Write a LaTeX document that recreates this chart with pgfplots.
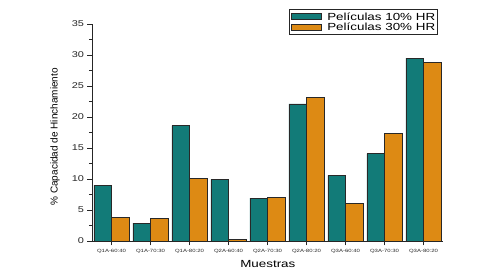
\documentclass[border=0pt]{standalone}
\usepackage{fontspec}
\setmainfont[FakeStretch=1.3]{Liberation Sans}
\newfontfamily\plainsans{Liberation Sans}
\usepackage{pgfplots}
\pgfplotsset{compat=1.18}
\definecolor{tealbar}{RGB}{18,123,120}
\definecolor{orangebar}{RGB}{221,138,20}
\definecolor{edge}{RGB}{40,40,40}
\pgfplotsset{boxlegend/.style={legend image code/.code={\draw[##1] (0pt,-3.1pt) rectangle (30pt,3.1pt);}}}
\begin{document}
\begin{tikzpicture}
\useasboundingbox (-92pt,-39pt) rectangle (408pt,241pt);
\begin{axis}[
  scale only axis, width=351pt, height=217pt,
  xmin=-0.5, xmax=8.5, ymin=0, ymax=35,
  axis x line*=bottom, axis y line*=left,
  axis line style={line width=0.7pt, color=black!85},
  ybar=0pt, bar width=0.45,
  xtick={0,...,8},
  xticklabels={Q1A-60:40,Q1A-70:30,Q1A-80:20,Q2A-60:40,Q2A-70:30,Q2A-80:20,Q3A-60:40,Q3A-70:30,Q3A-80:20},
  ytick={0,5,...,35}, minor y tick num=1,
  tick align=outside, major tick length=4.5pt, minor tick length=3pt,
  tick style={line width=0.6pt, color=black!85},
  /pgf/number format/assume math mode=true,
  yticklabel style={font=\fontsize{8.4}{9}\selectfont, text=black!85},
  xticklabel style={font=\fontsize{4.6}{5}\selectfont, text=black!85},
  xlabel={Muestras},
  xlabel style={font=\fontsize{10.3}{11}\selectfont, at={(axis description cs:0.501,-0.106)}, anchor=center},
  ylabel={\plainsans\% Capacidad de Hinchamiento},
  ylabel style={font=\fontsize{10}{11}\selectfont, at={(axis description cs:-0.105,0.48)}, anchor=center},
  legend style={at={(0.561,1.069)}, anchor=north west, draw=black!85, line width=0.6pt,
    font=\fontsize{10.3}{10}\selectfont, inner xsep=2pt, inner ysep=3pt},
  legend style={row sep=2pt, column sep=0pt},
  legend style={nodes={inner sep=0.5pt, text height=7.2pt, text depth=0.3pt}},
  legend style={/tikz/column 1/.style={column sep=5pt}},
  legend cell align=left,
]
\addplot[fill=tealbar, draw=edge, line width=0.6pt, boxlegend]
  coordinates {(0,9.0) (1,2.9) (2,18.6) (3,9.95) (4,6.9) (5,22.1) (6,10.6) (7,14.1) (8,29.5)};
\addplot[fill=orangebar, draw=edge, line width=0.6pt, boxlegend]
  coordinates {(0,3.75) (1,3.65) (2,10.1) (3,0.2) (4,7.05) (5,23.2) (6,6.1) (7,17.4) (8,28.8)};
\legend{Películas 10\% HR, Películas 30\% HR}
\end{axis}
\end{tikzpicture}
\end{document}
